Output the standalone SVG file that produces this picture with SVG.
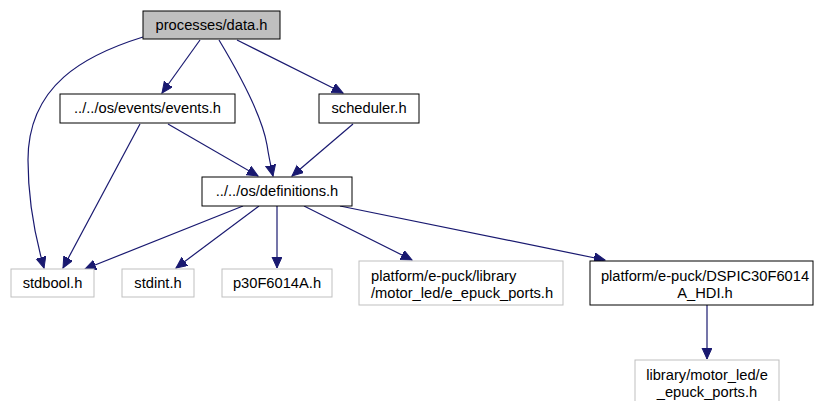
<svg xmlns="http://www.w3.org/2000/svg" width="814" height="401" viewBox="0 0 814 401">
<style>
  .n rect { fill: #ffffff; stroke: #000000; stroke-width: 1; }
  .n.root rect { fill: #bfbfbf; }
  .n.ext rect { stroke: #bfbfbf; }
  text { font-family: "Liberation Sans", Helvetica, Arial, sans-serif; font-size: 14.7px; fill: #000000; }
  .c { text-anchor: middle; }
  .e path { fill: none; stroke: #191970; stroke-width: 1.2; marker-end: url(#ah); }
</style>
<defs>
  <marker id="ah" markerUnits="userSpaceOnUse" markerWidth="13" markerHeight="11" refX="11" refY="5" orient="auto">
    <path d="M0,0 L11,5 L0,10 z" fill="#191970" stroke="#191970" stroke-width="1"/>
  </marker>
</defs>
<rect width="814" height="401" fill="#ffffff"/>
<g id="edges" class="e">
  <path d="M143,37 C85,55 28,85 28,160 C28,205 36,240 44,268"/>
  <path d="M200,40 L162,93"/>
  <path d="M219,40 C240,75 262,115 267,145 C269,158 271,167 273,176"/>
  <path d="M237,40 L343,93"/>
  <path d="M140,124 L63,268"/>
  <path d="M168,124 L258,176"/>
  <path d="M353,124 L292,176"/>
  <path d="M243,206 L85,269"/>
  <path d="M259,206 L176,268"/>
  <path d="M277,206 L277,268"/>
  <path d="M304,206 L412,260"/>
  <path d="M340,206 L605,260"/>
  <path d="M707,305 L707,359"/>
</g>
<g id="data_h" class="n root"><rect x="143" y="11" width="137" height="28"/><text class="c" x="211.5" y="30">processes/data.h</text></g>
<g id="events_h" class="n"><rect x="60" y="94" width="175" height="29"/><text class="c" x="147.5" y="113">../../os/events/events.h</text></g>
<g id="scheduler_h" class="n"><rect x="319" y="94" width="100" height="29"/><text class="c" x="369" y="113">scheduler.h</text></g>
<g id="definitions_h" class="n"><rect x="202" y="177" width="150" height="29"/><text class="c" x="277" y="196">../../os/definitions.h</text></g>
<g id="stdbool_h" class="n ext"><rect x="11" y="269" width="83" height="28"/><text class="c" x="52.5" y="288">stdbool.h</text></g>
<g id="stdint_h" class="n ext"><rect x="122" y="269" width="72" height="28"/><text class="c" x="158" y="288">stdint.h</text></g>
<g id="p30F6014A_h" class="n ext"><rect x="222" y="269" width="110" height="28"/><text class="c" x="277" y="288">p30F6014A.h</text></g>
<g id="epuck_ports_lib" class="n ext"><rect x="359" y="261" width="204" height="44"/><text x="371" y="281">platform/e-puck/library</text><text x="371" y="297.5">/motor_led/e_epuck_ports.h</text></g>
<g id="dspic_hdi" class="n"><rect x="590" y="261" width="223" height="44"/><text class="c" x="705" y="281">platform/e-puck/DSPIC30F6014</text><text class="c" x="705" y="297.5">A_HDI.h</text></g>
<g id="epuck_ports" class="n ext"><rect x="635" y="360" width="144" height="44"/><text class="c" x="707" y="380">library/motor_led/e</text><text class="c" x="707" y="396.5">_epuck_ports.h</text></g>
</svg>
